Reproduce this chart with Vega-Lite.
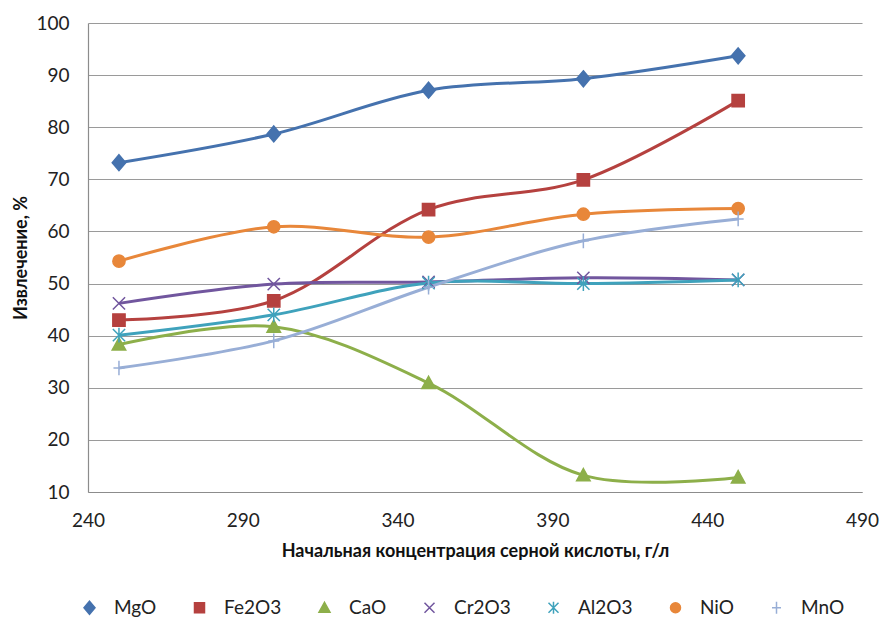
{
  "$schema": "https://vega.github.io/schema/vega-lite/v6.json",
  "width": 774,
  "height": 469,
  "autosize": {"type": "none"},
  "padding": {"left": 88, "top": 23, "right": 18, "bottom": 125},
  "background": "white",
  "config": {
    "view": {"stroke": null},
    "font": "Lato",
    "axis": {"labelFont": "Lato", "titleFont": "Lato", "labelColor": "#222", "titleColor": "#111"},
    "legend": {"padding": 0}
  },
  "data": {
    "values": [
      {"c": 250, "series": "MgO", "v": 73.2},
      {"c": 300, "series": "MgO", "v": 78.7},
      {"c": 350, "series": "MgO", "v": 87.1},
      {"c": 400, "series": "MgO", "v": 89.3},
      {"c": 450, "series": "MgO", "v": 93.7},
      {"c": 250, "series": "Fe2O3", "v": 43.0},
      {"c": 300, "series": "Fe2O3", "v": 46.7},
      {"c": 350, "series": "Fe2O3", "v": 64.2},
      {"c": 400, "series": "Fe2O3", "v": 69.9},
      {"c": 450, "series": "Fe2O3", "v": 85.1},
      {"c": 250, "series": "CaO", "v": 38.3},
      {"c": 300, "series": "CaO", "v": 41.7},
      {"c": 350, "series": "CaO", "v": 30.9},
      {"c": 400, "series": "CaO", "v": 13.2},
      {"c": 450, "series": "CaO", "v": 12.8},
      {"c": 250, "series": "Cr2O3", "v": 46.2},
      {"c": 300, "series": "Cr2O3", "v": 49.9},
      {"c": 350, "series": "Cr2O3", "v": 50.3},
      {"c": 400, "series": "Cr2O3", "v": 51.1},
      {"c": 450, "series": "Cr2O3", "v": 50.7},
      {"c": 250, "series": "Al2O3", "v": 40.1},
      {"c": 300, "series": "Al2O3", "v": 44.0},
      {"c": 350, "series": "Al2O3", "v": 50.1},
      {"c": 400, "series": "Al2O3", "v": 50.0},
      {"c": 450, "series": "Al2O3", "v": 50.7},
      {"c": 250, "series": "NiO", "v": 54.3},
      {"c": 300, "series": "NiO", "v": 60.9},
      {"c": 350, "series": "NiO", "v": 58.9},
      {"c": 400, "series": "NiO", "v": 63.3},
      {"c": 450, "series": "NiO", "v": 64.4},
      {"c": 250, "series": "MnO", "v": 33.8},
      {"c": 300, "series": "MnO", "v": 39.0},
      {"c": 350, "series": "MnO", "v": 49.3},
      {"c": 400, "series": "MnO", "v": 58.2},
      {"c": 450, "series": "MnO", "v": 62.4}
    ]
  },
  "encoding": {
    "x": {
      "field": "c", "type": "quantitative",
      "scale": {"domain": [240, 490], "nice": false, "zero": false},
      "axis": {
        "values": [240, 290, 340, 390, 440, 490],
        "title": "Начальная концентрация серной кислоты, г/л",
        "titleFontSize": 18, "titleFontWeight": "bold", "titlePadding": 12,
        "labelFontSize": 19, "labelPadding": 19,
        "ticks": false, "grid": false,
        "domainColor": "#8c8c8c", "domainWidth": 1.2,
        "labelFlush": false
      }
    },
    "y": {
      "field": "v", "type": "quantitative",
      "scale": {"domain": [10, 100], "nice": false, "zero": false},
      "axis": {
        "values": [10, 20, 30, 40, 50, 60, 70, 80, 90, 100],
        "title": "Извлечение, %",
        "titleFontSize": 18, "titleFontWeight": "bold", "titlePadding": 5,
        "labelFontSize": 19, "labelPadding": 19,
        "ticks": false,
        "grid": true, "gridColor": "#9a9a9a", "gridWidth": 1.2,
        "domainColor": "#8c8c8c", "domainWidth": 1.2
      }
    }
  },
  "layer": [
    {
      "mark": {"type": "line", "interpolate": "catmull-rom", "strokeWidth": 3},
      "encoding": {
        "color": {
          "field": "series", "type": "nominal",
          "scale": {
            "domain": ["MgO", "Fe2O3", "CaO", "Cr2O3", "Al2O3", "NiO", "MnO"],
            "range": ["#4572AE", "#B5413F", "#8DAF4A", "#71569E", "#3FA2BC", "#E8873A", "#98AED6"]
          }
        },
        "detail": {"field": "series"}
      }
    },
    {
      "mark": {"type": "point", "filled": true, "size": 150, "opacity": 1, "strokeWidth": 1.5},
      "encoding": {
        "color": {
          "field": "series", "type": "nominal",
          "scale": {
            "domain": ["MgO", "Fe2O3", "CaO", "Cr2O3", "Al2O3", "NiO", "MnO"],
            "range": ["#4572AE", "#B5413F", "#8DAF4A", "#71569E", "#3FA2BC", "#E8873A", "#98AED6"]
          },
          "legend": {
            "orient": "none", "legendX": -8, "legendY": 575,
            "direction": "horizontal", "title": null,
            "labelFontSize": 19, "labelFont": "Lato", "labelColor": "#222",
            "labelOffset": 15, "columnPadding": 33, "symbolSize": 100
          }
        },
        "stroke": {
          "field": "series", "type": "nominal",
          "scale": {
            "domain": ["MgO", "Fe2O3", "CaO", "Cr2O3", "Al2O3", "NiO", "MnO"],
            "range": ["#4572AE", "#B5413F", "#8DAF4A", "#71569E", "#3FA2BC", "#E8873A", "#98AED6"]
          }
        },
        "shape": {
          "field": "series", "type": "nominal",
          "scale": {
            "domain": ["MgO", "Fe2O3", "CaO", "Cr2O3", "Al2O3", "NiO", "MnO"],
            "range": [
              "M0,-1.3L1.1,0L0,1.3L-1.1,0Z",
              "M-1,-1L1,-1L1,1L-1,1Z",
              "M0,-1.1L1.1,0.9L-1.1,0.9Z",
              "M-1,-1L1,1M-1,1L1,-1",
              "M-1,-1L1,1M-1,1L1,-1M0,-1.2L0,1.2",
              "circle",
              "M-0.9,0L0.9,0M0,-1.2L0,1.2"
            ]
          }
        }
      }
    }
  ]
}
